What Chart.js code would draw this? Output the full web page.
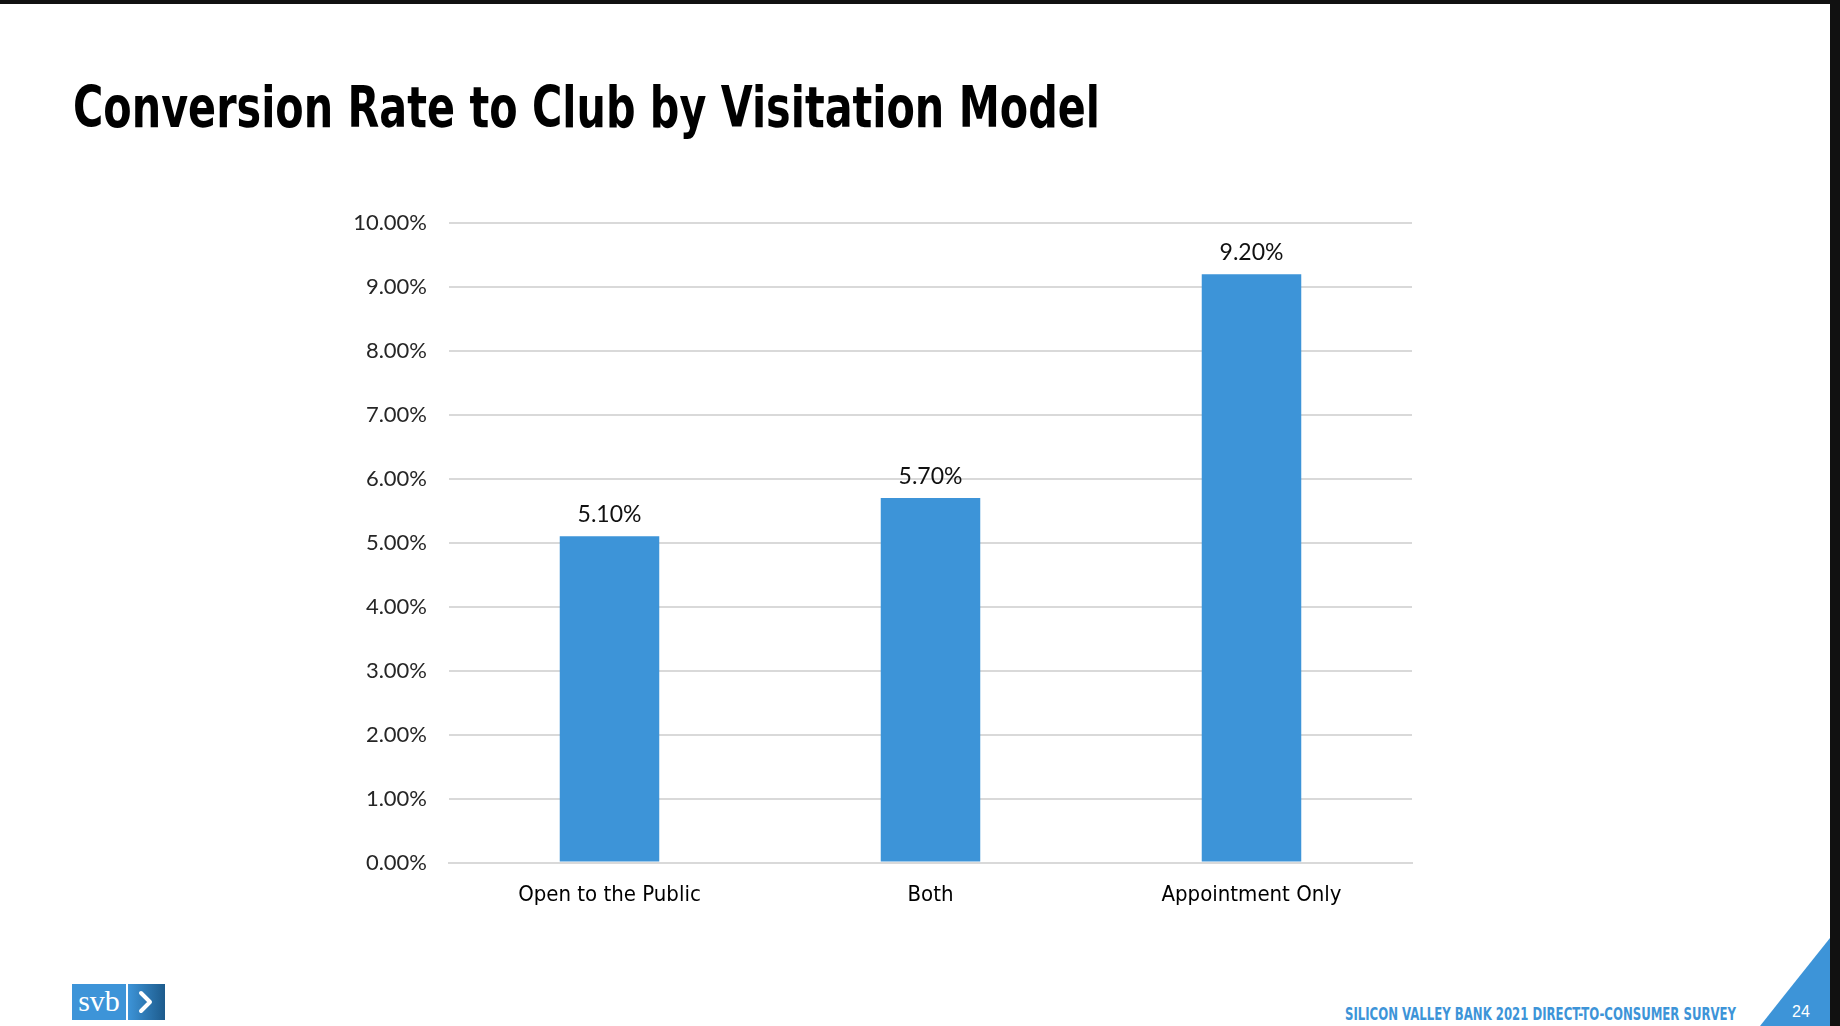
<!DOCTYPE html>
<html>
<head>
<meta charset="utf-8">
<script src="https://cdn.jsdelivr.net/npm/chart.js@4.4.1/dist/chart.umd.min.js"></script>
<style>
  html, body { margin: 0; padding: 0; }
  body { width: 1840px; height: 1026px; position: relative; overflow: hidden; background: #fff; }
  .topbar { position: absolute; left: 0; top: 0; width: 1840px; height: 4px; background: #111; }
  .rightbar { position: absolute; left: 1830px; top: 0; width: 10px; height: 1026px; background: #111; }
  .fit { position: absolute; white-space: nowrap; transform-origin: 0 0; line-height: 1; }
  #title { left: 73px; top: 74px; font: bold 57px "Liberation Sans Narrow", "DejaVu Sans Condensed", "Liberation Sans", sans-serif; color: #000; }
  #footer { left: 1345px; top: 1003px; font: bold 18px "Liberation Sans Narrow", "DejaVu Sans Condensed", "Liberation Sans", sans-serif; color: #3d94d8; }
  #page { position: absolute; left: 1792px; top: 1004px; font: 16px "Liberation Sans", sans-serif; color: #fff; line-height: 1; }
  .tri { position: absolute; left: 1760px; top: 938px; width: 70px; height: 88px; background: #3d94d8; clip-path: polygon(100% 0, 100% 100%, 0 100%); }
  #chartBox { position: absolute; left: 300px; top: 180px; width: 1150px; height: 745px; }
  .logo1 { position: absolute; left: 72px; top: 984px; width: 54px; height: 36px; background: #3d94d8; color: #fff; font: 30px "Liberation Serif", "DejaVu Serif", serif; text-align: center; line-height: 34px; }
  .logo2 { position: absolute; left: 128px; top: 984px; width: 37px; height: 36px; background: linear-gradient(to right, #3d94d8, #1d5b8c); }
</style>
</head>
<body>
<div class="topbar"></div>
<div class="rightbar"></div>
<div id="title" class="fit">Conversion Rate to Club by Visitation Model</div>
<div id="chartBox"><canvas id="chart"></canvas></div>
<div class="logo1">svb</div>
<div class="logo2"><svg width="37" height="36"><polyline points="13,9 22,18 13,27" fill="none" stroke="#fff" stroke-width="4" stroke-linecap="round" stroke-linejoin="round"/></svg></div>
<div id="footer" class="fit">SILICON VALLEY BANK 2021 DIRECT-TO-CONSUMER SURVEY</div>
<div class="tri"></div>
<div id="page">24</div>
<script>
// chart data
const categories = ["Open to the Public", "Both", "Appointment Only"];
const rates = [5.1, 5.7, 9.2];
const yMax = 10;
const yStep = 1;

// squeeze text to the width it has on the slide
function fitWidth(id, target) {
  const el = document.getElementById(id);
  const w = el.getBoundingClientRect().width;
  el.style.transform = "scaleX(" + (target / w) + ")";
}
fitWidth("title", 1027);
fitWidth("footer", 391);

const pct = (v) => v.toFixed(2) + "%";

// values above the bars
const barLabels = {
  id: "barLabels",
  afterDatasetsDraw(chart) {
    const ctx = chart.ctx;
    const meta = chart.getDatasetMeta(0);
    ctx.save();
    ctx.font = "23px Lato, sans-serif";
    ctx.fillStyle = "#111";
    ctx.textAlign = "center";
    ctx.textBaseline = "bottom";
    meta.data.forEach((bar, i) => {
      ctx.fillText(pct(rates[i]), bar.x, bar.y - 10);
    });
    ctx.restore();
  },
};

const chart = new Chart(document.getElementById("chart"), {
  type: "bar",
  data: {
    labels: categories,
    datasets: [
      {
        data: rates,
        backgroundColor: "#3d94d8",
        barPercentage: 0.31,
        categoryPercentage: 1,
      },
    ],
  },
  options: {
    responsive: true,
    maintainAspectRatio: false,
    animation: false,
    layout: {
      padding: { top: 43, right: 38, bottom: 0, left: 0 },
    },
    plugins: {
      legend: { display: false },
      tooltip: { enabled: false },
    },
    scales: {
      x: {
        grid: { display: false },
        border: { display: true, color: "#d9d9d9", width: 2 },
        ticks: {
          color: "#000",
          padding: 12,
          font: { family: "'Liberation Sans Narrow', 'DejaVu Sans Condensed', sans-serif", size: 22 },
        },
        afterFit: (axis) => { axis.height = 62.5; },
      },
      y: {
        min: 0,
        max: yMax,
        grid: { color: "#d9d9d9", lineWidth: 2, drawTicks: false },
        border: { display: false },
        ticks: {
          stepSize: yStep,
          color: "#262626",
          padding: 22,
          font: { family: "Lato, sans-serif", size: 22 },
          callback: (v) => pct(v),
        },
        afterFit: (axis) => { axis.width = 149; },
      },
    },
  },
  plugins: [barLabels],
});
</script>
</body>
</html>
